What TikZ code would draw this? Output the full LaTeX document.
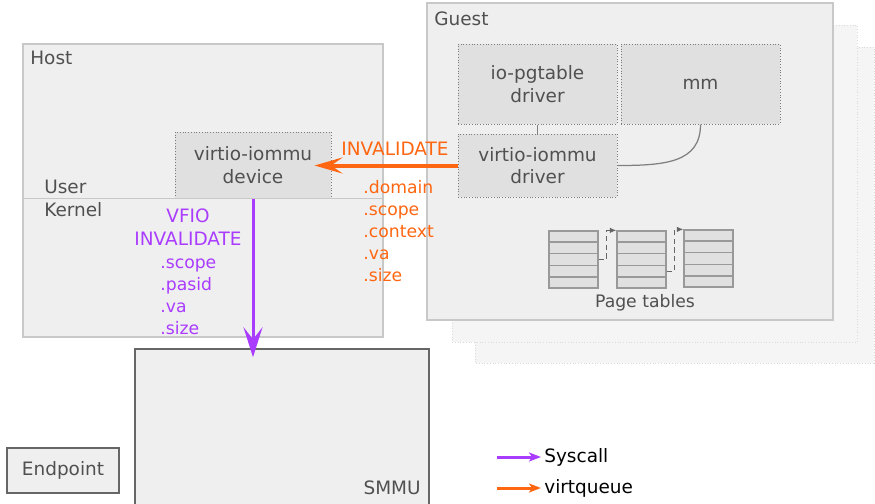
\documentclass[tikz,border=0pt]{standalone}
\usepackage{fontspec}
\setmainfont{DejaVu Sans}
\usetikzlibrary{arrows.meta,calc}

\definecolor{vqorange}{RGB}{255,102,17}
\definecolor{sysviolet}{RGB}{170,60,255}
\definecolor{inkgray}{RGB}{80,80,80}
\definecolor{panelfill}{RGB}{239,239,239}
\definecolor{panelline}{RGB}{200,200,200}
\definecolor{blockfill}{RGB}{224,224,224}
\definecolor{blockline}{RGB}{125,125,125}
\definecolor{ghostfill}{RGB}{245,245,245}
\definecolor{ghostline}{RGB}{218,218,218}

\newcommand{\labelsize}{\fontsize{10.5}{12.9}\selectfont}
\newcommand{\fieldsize}{\fontsize{9.8}{12.5}\selectfont}

\tikzset{sz/.style 2 args={minimum width=#1*0.2mm, minimum height=#2*0.2mm}}

\begin{document}
\begin{tikzpicture}[x=0.2mm,y=-0.2mm,
  panel/.style={draw=panelline, fill=panelfill, line width=0.3mm, inner sep=0pt},
  block/.style={draw=blockline, fill=blockfill, densely dotted, line width=0.2mm,
                text=inkgray, font=\labelsize, align=center, inner sep=0pt},
  hw/.style={draw=black!60, fill=panelfill, line width=0.3mm, inner sep=0pt},
  ghost/.style={draw=ghostline, fill=ghostfill, densely dotted, line width=0.2mm},
  title/.style={text=inkgray, font=\labelsize, inner sep=0pt, anchor=base west},
  field/.style={font=\fieldsize, inner sep=0pt, anchor=base west},
  table/.style={draw=black!40, fill=blockfill, line width=0.25mm, sz={49}{57}, inner sep=0pt},
  rowline/.style={draw=black!40, line width=0.25mm},
  ptrline/.style={draw=black!60, line width=0.2mm, densely dashed, -{Latex[length=1.3mm,width=1.1mm]}},
  link/.style={draw=black!50, line width=0.25mm},
  vq/.style={draw=vqorange, line width=0.8mm, -{Stealth[length=5.6mm,width=3.2mm,inset=2.3mm]}},
  sys/.style={draw=sysviolet, line width=0.6mm, -{Stealth[length=6mm,width=3.8mm,inset=2.4mm]}},
  key/.style={line width=0.6mm, -{Stealth[length=2.4mm,width=1.8mm,inset=0.6mm]}}]
\useasboundingbox (0,0) rectangle (875,504);

% guest copies behind
\draw[ghost] (475,47) rectangle (874,363);
\draw[ghost] (452,25) rectangle (857,342);

% guest
\node[panel, sz={406}{317}] (guest) at (630,161.5) {};
\node[title] (guestlabel) at (434,25) {Guest};
\node[block, sz={159}{80}] (pgtable) at (537.5,84) {io-pgtable\\driver};
\node[block, sz={159}{80}] (mm) at (700.5,84) {mm};
\node[block, sz={159}{63}] (driver) at (537.5,165.5) {virtio-iommu\\driver};
\draw[link] (pgtable.south) -- (driver.north);
\draw[link] (mm.south) .. controls +(0,38) and +(48,0) .. (driver.east);

% page tables
\node[table] (pt1) at (573.5,259.5) {};
\node[table] (pt2) at (641.5,259.5) {};
\node[table] (pt3) at (708.5,258.5) {};
\foreach \t in {pt1,pt2,pt3}
  \foreach \r in {1,...,4}
    \draw[rowline] ($(\t.north west)!\r/5!(\t.south west)$) -- ($(\t.north east)!\r/5!(\t.south east)$);
\draw[ptrline] (pt1.east) -- ++(8,0) |- (pt2.north west);
\draw[ptrline] ([yshift=-2.3mm]pt2.east) -- ++(8,0) |- (pt3.north west);
\node[text=inkgray, font=\fieldsize, inner sep=0pt] (ptlabel) at (645,303) {Page tables};

% host
\node[panel, sz={360}{293}] (host) at (203,190.5) {};
\node[title] (hostlabel) at (30,64) {Host};
\node[block, sz={156}{66}] (device) at (253,165) {virtio-iommu\\device};
\draw[panelline, line width=0.3mm] (host.west |- device.south) -- (host.east |- device.south);
\node[title] (userlabel) at (44,193) {User};
\node[title] (kernellabel) at (44,216) {Kernel};

% hardware
\node[hw, sz={294}{158}] (smmu) at (282,428) {};
\node[title, anchor=base east] (smmulabel) at (421,494) {SMMU};
\node[hw, sz={112}{45}, text=inkgray, font=\labelsize] (endpoint) at (63,470.5) {Endpoint};

% virtqueue request
\draw[vq, shorten >=-3.4mm] (driver.west) -- (driver.west -| device.east);
\node[text=vqorange, font=\labelsize, inner sep=0pt, anchor=base] (vqcmd) at (395,155) {INVALIDATE};
\foreach \f [count=\i] in {.domain,.scope,.context,.va,.size}
  \node[field, text=vqorange] (vqf\i) at (363,171+22*\i) {\f};

% syscall
\draw[sys, shorten >=-1.8mm] (device.south) -- (device.south |- smmu.north);
\node[text=sysviolet, font=\labelsize, inner sep=0pt, anchor=base] (vfio) at (188,222) {VFIO};
\node[text=sysviolet, font=\labelsize, inner sep=0pt, anchor=base] (syscmd) at (188,245) {INVALIDATE};
\foreach \f [count=\i] in {.scope,.pasid,.va,.size}
  \node[field, text=sysviolet] (sysf\i) at (160,246+22*\i) {\f};

% legend
\node[font=\labelsize, inner sep=0pt, anchor=west] (keysys) at (544,457) {Syscall};
\node[font=\labelsize, inner sep=0pt, anchor=west] (keyvq) at (544,488) {virtqueue};
\coordinate (keysysstart) at (497,457);
\coordinate (keyvqstart) at (497,488);
\draw[key, sysviolet] (keysysstart) -- ([xshift=-0.6mm]keysys.west);
\draw[key, vqorange] (keyvqstart) -- ([xshift=-0.6mm]keyvq.west);
\end{tikzpicture}
\end{document}
